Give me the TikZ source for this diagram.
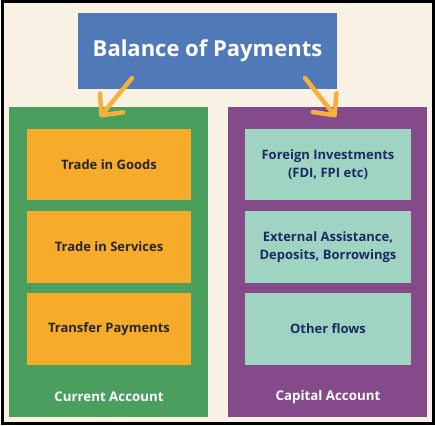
\documentclass[tikz,border=0pt]{standalone}
\usepackage{fontspec}
\setmainfont{Open Sans}
\usetikzlibrary{arrows.meta}
\definecolor{cream}{HTML}{F8F1E4}
\definecolor{bopblue}{HTML}{4F79B7}
\definecolor{bopgreen}{HTML}{4A9F5F}
\definecolor{boppurple}{HTML}{854A8A}
\definecolor{boporange}{HTML}{F6AB2B}
\definecolor{bopteal}{HTML}{9FD4C2}
\definecolor{bopnavy}{HTML}{1C2B63}
\definecolor{boparrow}{HTML}{F4B23A}
\begin{document}
\begin{tikzpicture}[x=1pt,y=-1pt,
  panel/.style={draw=none,minimum width=199pt,minimum height=310pt,inner sep=0pt},
  leftitem/.style={fill=boporange,minimum width=164pt,minimum height=72pt,inner sep=0pt,
    font=\fontsize{13}{16}\selectfont\bfseries,text=black!85,align=center},
  rightitem/.style={fill=bopteal,minimum width=166pt,minimum height=72pt,inner sep=0pt,
    font=\fontsize{13}{17.5}\selectfont\bfseries,text=bopnavy,align=center},
  panellabel/.style={font=\fontsize{13.3}{16}\selectfont\bfseries,text=white},
  arr/.style={draw=boparrow,line width=4.5pt,line cap=round,
    -{Straight Barb[length=16pt,width=30pt,line width=4.5pt,round]}}]
\useasboundingbox (0,0) rectangle (435,425);
\draw[line width=3pt,fill=cream] (2,2) rectangle (433,423);
\node[fill=bopblue,minimum width=259pt,minimum height=76pt,inner sep=0pt,
  text=white,font=\fontsize{22}{26}\selectfont\bfseries] (title) at (207.5,51) {Balance of Payments};
\node[panel,fill=bopgreen] (cur) at (108.5,262) {};
\node[panel,fill=boppurple] (cap) at (327.5,262) {};
\node[leftitem,minimum height=71pt] (goods) at (109,164.5) {Trade in Goods};
\node[leftitem] (serv) at (109,247) {Trade in Services};
\node[leftitem] (trans) at (109,329) {Transfer Payments};
\node[rightitem,minimum height=71pt] (fdi) at (328,164.5) {Foreign Investments\\(FDI, FPI etc)};
\node[rightitem] (ext) at (328,247) {External Assistance,\\Deposits, Borrowings};
\node[rightitem] (oth) at (328,329) {Other flows};
\node[panellabel] (curl) at (109,397) {Current Account};
\node[panellabel] (capl) at (328,397) {Capital Account};
\coordinate (a1s) at (132,78);
\coordinate (a1e) at (100,117);
\coordinate (a2s) at (305,78);
\coordinate (a2e) at (336,117);
\draw[arr] (a1s) -- (a1e);
\draw[arr] (a2s) -- (a2e);
\end{tikzpicture}
\end{document}
